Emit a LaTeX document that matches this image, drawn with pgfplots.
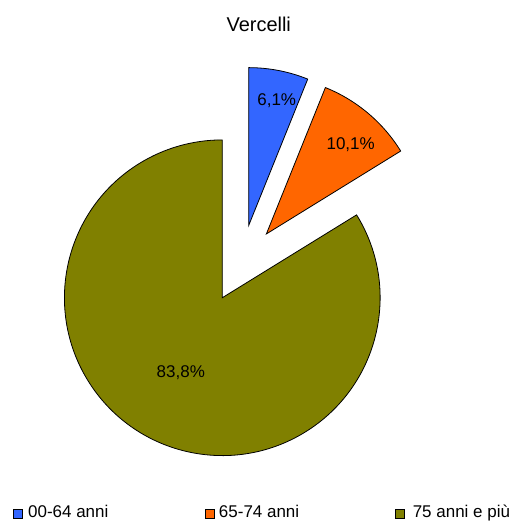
\documentclass[border=0pt]{standalone}
\usepackage{pgfplots}
\pgfplotsset{compat=1.18}
\usepackage{fontspec}
\setmainfont{Liberation Sans}
\usetikzlibrary{calc}
\definecolor{cBlue}{RGB}{51,102,255}
\definecolor{cOrange}{RGB}{255,102,0}
\definecolor{cOlive}{RGB}{128,128,0}
% data (percent)
\def\vA{6.1}
\def\vB{10.1}
\def\vC{83.8}
\pgfmathsetmacro\aA{90}
\pgfmathsetmacro\aB{\aA-3.6*\vA}
\pgfmathsetmacro\aC{\aB-3.6*\vB}
\pgfmathsetmacro\aD{\aC-3.6*\vC}
\pgfmathsetmacro\mA{(\aA+\aB)/2}
\pgfmathsetmacro\mB{(\aB+\aC)/2}
\pgfmathsetmacro\mC{(\aC+\aD)/2}
\def\R{158bp}
\def\E{39bp}
\begin{document}
\begin{tikzpicture}
\begin{axis}[x=1bp,y=1bp,xmin=0,xmax=516,ymin=0,ymax=521,hide axis,clip=false,
  at={(0,0)},anchor=south west]
\path (axis cs:0,0) rectangle (axis cs:516,521);
\coordinate (C) at (axis cs:241.5,257);
\filldraw[fill=cBlue,draw=black,line width=0.8bp] ($(C)+(\mA:\E)$) -- ++(\aA:\R) arc[start angle=\aA,end angle=\aB,radius=\R] -- cycle;
\filldraw[fill=cOrange,draw=black,line width=0.8bp] ($(C)+(\mB:\E)$) -- ++(\aB:\R) arc[start angle=\aB,end angle=\aC,radius=\R] -- cycle;
\filldraw[fill=cOlive,draw=black,line width=0.8bp] ($(C)+(\mC:\E)$) -- ++(\aC:\R) arc[start angle=\aC,end angle=\aD,radius=\R] -- cycle;
\node[font=\fontsize{20bp}{24bp}\selectfont] at (axis cs:259,497) {Vercelli};
\node[font=\fontsize{17bp}{20bp}\selectfont] at (axis cs:277,420) {6,1\%};
\node[font=\fontsize{17bp}{20bp}\selectfont] at (axis cs:351,376) {10,1\%};
\node[font=\fontsize{17bp}{20bp}\selectfont] at (axis cs:181,148) {83,8\%};
\filldraw[fill=cBlue,draw=black,line width=0.6bp] (axis cs:13,2.5) rectangle (axis cs:22,11.5);
\filldraw[fill=cOrange,draw=black,line width=0.6bp] (axis cs:206,2.5) rectangle (axis cs:215,11.5);
\filldraw[fill=cOlive,draw=black,line width=0.6bp] (axis cs:396,2.5) rectangle (axis cs:405,11.5);
\node[font=\fontsize{17bp}{20bp}\selectfont,anchor=base west,inner sep=0pt] at (axis cs:28,3) {00-64 anni};
\node[font=\fontsize{17bp}{20bp}\selectfont,anchor=base west,inner sep=0pt] at (axis cs:219,3) {65-74 anni};
\node[font=\fontsize{17bp}{20bp}\selectfont,anchor=base west,inner sep=0pt] at (axis cs:413,3) {75 anni e più};
\end{axis}
\end{tikzpicture}
\end{document}
